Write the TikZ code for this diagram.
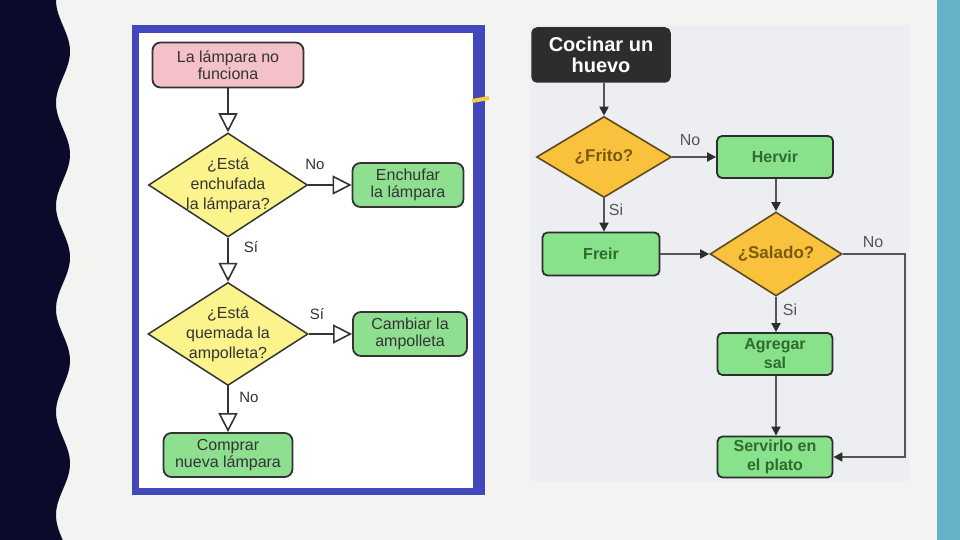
\documentclass[tikz,border=0pt]{standalone}
\usepackage{fontspec}
\setmainfont{Liberation Sans}
\usetikzlibrary{shapes.geometric,arrows.meta}
\definecolor{bgc}{HTML}{F3F3F1}
\definecolor{navy}{HTML}{0B0A2A}
\definecolor{teal}{HTML}{63B2C7}
\definecolor{blueb}{HTML}{4247BB}
\definecolor{panelc}{HTML}{ECEEF1}
\definecolor{pinkc}{HTML}{F5C1C8}
\definecolor{lyel}{HTML}{FBF38C}
\definecolor{lgreen}{HTML}{8EE090}
\definecolor{ldark}{HTML}{333333}
\definecolor{rgreen}{HTML}{88E28C}
\definecolor{rorange}{HTML}{F9C13C}
\definecolor{rdark}{HTML}{2D2D2D}
\definecolor{rline}{HTML}{555555}
\definecolor{rgtext}{HTML}{2F6A2F}
\definecolor{rotext}{HTML}{7A5A10}
\definecolor{rdiab}{HTML}{5E4A1C}
\definecolor{tickyel}{HTML}{F0D040}
\begin{document}
\begin{tikzpicture}[x=1pt,y=-1pt,
  lfont/.style={font=\fontsize{16}{17}\selectfont},
  lbox/.style={draw=ldark, line width=1.8pt, rounded corners=8pt, inner sep=0pt,
    align=center, text=ldark, lfont},
  ldia/.style={shape=diamond, draw=ldark, line width=1.5pt, fill=lyel, inner sep=0pt, aspect=1.5},
  dtext/.style={align=center, text=ldark, font=\fontsize{16}{20}\selectfont},
  larr/.style={draw=ldark, line width=2pt, -{Triangle[length=19pt,width=19pt,fill=white,line width=1.6pt]}},
  llab/.style={text=ldark, font=\fontsize{15}{17}\selectfont},
  rbox/.style={draw=rdark, line width=1.8pt, rounded corners=5pt, inner sep=0pt,
    align=center, fill=rgreen, text=rgtext, font=\bfseries\fontsize{16}{19}\selectfont},
  rdia/.style={shape=diamond, draw=rdiab, line width=1.6pt, fill=rorange, inner sep=0pt, aspect=1.5},
  rdtext/.style={text=rotext, font=\bfseries\fontsize{17}{19}\selectfont},
  rarr/.style={draw=rline, line width=1.8pt, -{Triangle[length=9pt,width=9pt,color=rdark]}},
  rlab/.style={text=rline, font=\fontsize{16}{18}\selectfont}
]
\useasboundingbox (0,0) rectangle (960,540);
% background
\fill[bgc] (0,0) rectangle (960,540);
\fill[navy] (0,0) -- plot[domain=0:540, samples=160, smooth] ({63-7*cos(3.49515*\x)}, \x) -- (0,540) -- cycle;
\fill[teal] (937,0) rectangle (960,540);
% left frame
\fill[blueb] (132,25) rectangle (485,495);
\fill[white] (139,33) rectangle (473,488);
\draw[tickyel, line width=4pt] (472,101) -- (489,98);
% right panel
\fill[panelc] (530,25) rectangle (909,481);

% ---------- left flowchart ----------
\node[lbox, fill=pinkc, minimum width=151pt, minimum height=45pt] (lamp) at (228,65) {La lámpara no\\funciona};
\node[ldia, minimum width=159pt, minimum height=104pt,
  label={[dtext]center:{¿Está\\enchufada\\la lámpara?}}] (d1) at (228,185) {};
\node[lbox, fill=lgreen, minimum width=111pt, minimum height=44pt] (ench) at (408,185) {Enchufar\\la lámpara};
\node[ldia, minimum width=160pt, minimum height=103pt,
  label={[dtext]center:{¿Está\\quemada la\\ampolleta?}}] (d2) at (228,334) {};
\node[lbox, fill=lgreen, minimum width=114pt, minimum height=44pt] (camb) at (410,334) {Cambiar la\\ampolleta};
\node[lbox, fill=lgreen, minimum width=129pt, minimum height=44pt] (comp) at (228,455) {Comprar\\nueva lámpara};

\draw[larr] (lamp) -- (d1.north);
\draw[larr] (d1.east) -- (ench.west);
\draw[larr] (d1.south) -- (d2.north);
\draw[larr] (d2.east) -- (camb.west);
\draw[larr] (d2.south) -- (comp.north);

\node[llab] (l1) at (315,164) {No};
\node[llab] (l2) at (251,247) {Sí};
\node[llab] (l3) at (317,314) {Sí};
\node[llab] (l4) at (249,397) {No};

% ---------- right flowchart ----------
\node[draw=rdark, line width=1.5pt, rounded corners=5pt, fill=rdark, text=white, align=center,
  font=\bfseries\fontsize{20}{21}\selectfont, minimum width=138pt, minimum height=54pt, inner sep=0pt]
  (cook) at (601,55) {Cocinar un\\huevo};
\node[rdia, minimum width=135pt, minimum height=81pt,
  label={[rdtext]center:{¿Frito?}}] (frito) at (604,157) {};
\node[rbox, minimum width=116pt, minimum height=42pt] (herv) at (775,157) {Hervir};
\node[rbox, minimum width=117pt, minimum height=43pt] (freir) at (601,254) {Freir};
\node[rdia, minimum width=132pt, minimum height=84pt,
  label={[rdtext]center:{¿Salado?}}] (sal) at (776,254) {};
\node[rbox, minimum width=115pt, minimum height=42pt] (agr) at (775,354) {Agregar\\sal};
\node[rbox, minimum width=115pt, minimum height=41pt] (serv) at (775,457) {Servirlo en\\el plato};
\coordinate (cn) at (905,254);

\draw[rarr] (frito.north |- cook.south) -- (frito.north);
\draw[rarr] (frito.east) -- (herv.west);
\draw[rarr] (frito.south) -- (frito.south |- freir.north);
\draw[rarr] (herv.south -| sal.north) -- (sal.north);
\draw[rarr] (freir.east) -- (sal.west);
\draw[rarr] (sal.south) -- (sal.south |- agr.north);
\draw[rarr] (agr.south -| sal.south) -- (sal.south |- serv.north);
\draw[rarr] (sal.east) -- (cn) |- (serv.east);

\node[rlab] (r1) at (690,140) {No};
\node[rlab] (r2) at (616,210) {Si};
\node[rlab] (r3) at (873,242) {No};
\node[rlab] (r4) at (790,310) {Si};
\end{tikzpicture}
\end{document}
